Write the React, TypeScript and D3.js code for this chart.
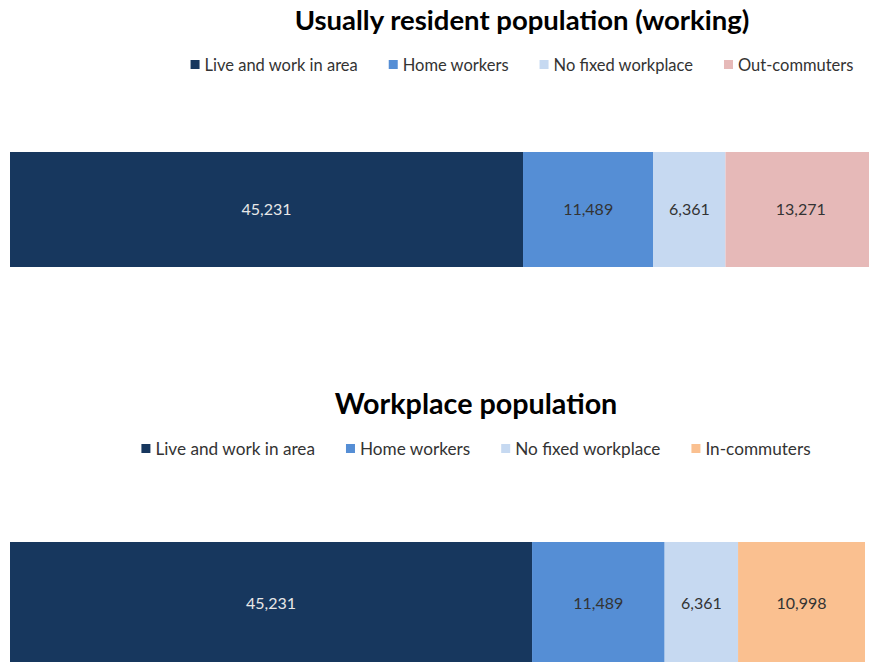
import * as d3 from "d3";
import { useEffect, useRef } from "react";

const residentCategories = ["Live and work in area", "Home workers", "No fixed workplace", "Out-commuters"];
const residentValues = [45231, 11489, 6361, 13271];
const workplaceCategories = ["Live and work in area", "Home workers", "No fixed workplace", "In-commuters"];
const workplaceValues = [45231, 11489, 6361, 10998];

const COLORS: Record<string, string> = {
  "Live and work in area": "#17375e",
  "Home workers": "#558ed5",
  "No fixed workplace": "#c6d9f1",
  "Out-commuters": "#e6b9b8",
  "In-commuters": "#fac090",
};

const WIDTH = 869;
const HEIGHT = 662;
const FONT = "Lato, 'Open Sans', sans-serif";

interface Panel {
  title: string;
  categories: string[];
  values: number[];
  center: number;
  titleY: number;
  titleSize: number;
  legendY: number;
  legendSize: number;
  barTop: number;
  barBottom: number;
  barRight: number;
}

const panels: Panel[] = [
  {
    title: "Usually resident population (working)",
    categories: residentCategories,
    values: residentValues,
    center: 522,
    titleY: 30,
    titleSize: 27.5,
    legendY: 65,
    legendSize: 16.5,
    barTop: 152,
    barBottom: 267,
    barRight: 876,
  },
  {
    title: "Workplace population",
    categories: workplaceCategories,
    values: workplaceValues,
    center: 476,
    titleY: 414,
    titleSize: 28.7,
    legendY: 449,
    legendSize: 17.2,
    barTop: 542,
    barBottom: 680,
    barRight: 865,
  },
];

export default function App() {
  const svgRef = useRef<SVGSVGElement>(null);

  useEffect(() => {
    if (!svgRef.current) return;
    const svg = d3.select(svgRef.current);
    svg.selectAll("*").remove();

    for (const p of panels) {
      const g = svg.append("g");

      // Title
      g.append("text")
        .attr("x", p.center)
        .attr("y", p.titleY)
        .attr("text-anchor", "middle")
        .style("font-family", FONT)
        .style("font-size", `${p.titleSize}px`)
        .style("font-weight", "bold")
        .style("fill", "#000")
        .text(p.title);

      // Legend, laid out from measured text widths
      const legend = g.append("g");
      const items = p.categories.map((c) => {
        const item = legend.append("g");
        item.append("rect")
          .attr("width", 9)
          .attr("height", 9)
          .attr("y", -5)
          .style("fill", COLORS[c]);
        const t = item.append("text")
          .attr("x", 14)
          .attr("y", 0)
          .attr("dy", "0.35em")
          .style("font-family", FONT)
          .style("font-size", `${p.legendSize}px`)
          .style("fill", "#333")
          .text(c);
        const w = 14 + (t.node()?.getComputedTextLength() || 0);
        return { item, w };
      });
      const gap = 31;
      const total = d3.sum(items, (d) => d.w) + gap * (items.length - 1);
      let x = p.center - total / 2;
      for (const it of items) {
        it.item.attr("transform", `translate(${x},${p.legendY})`);
        x += it.w + gap;
      }

      // Stacked 100% bar
      const sum = d3.sum(p.values);
      const xScale = d3.scaleLinear().domain([0, sum]).range([10, p.barRight]);
      const starts = d3.cumsum([0, ...p.values]);
      const yScale = d3.scaleBand().domain(["bar"]).range([p.barTop, p.barBottom]);

      p.categories.forEach((c, i) => {
        const x0 = xScale(starts[i]);
        const x1 = xScale(starts[i + 1]);
        g.append("rect")
          .attr("x", x0)
          .attr("y", yScale("bar")!)
          .attr("width", x1 - x0)
          .attr("height", yScale.bandwidth())
          .style("fill", COLORS[c]);
        g.append("text")
          .attr("x", (x0 + x1) / 2)
          .attr("y", p.barTop + (p.barBottom - p.barTop) / 2 + (p.barBottom > HEIGHT ? -8 : 0))
          .attr("dy", "0.35em")
          .attr("text-anchor", "middle")
          .style("font-family", FONT)
          .style("font-size", "16px")
          .style("fill", i === 0 ? "#e8e8e8" : "#333")
          .text(d3.format(",")(p.values[i]));
      });
    }
  }, []);

  return (
    <svg
      ref={svgRef}
      width={WIDTH}
      height={HEIGHT}
      style={{ position: "absolute", left: 0, top: 0, background: "#fff" }}
    />
  );
}
